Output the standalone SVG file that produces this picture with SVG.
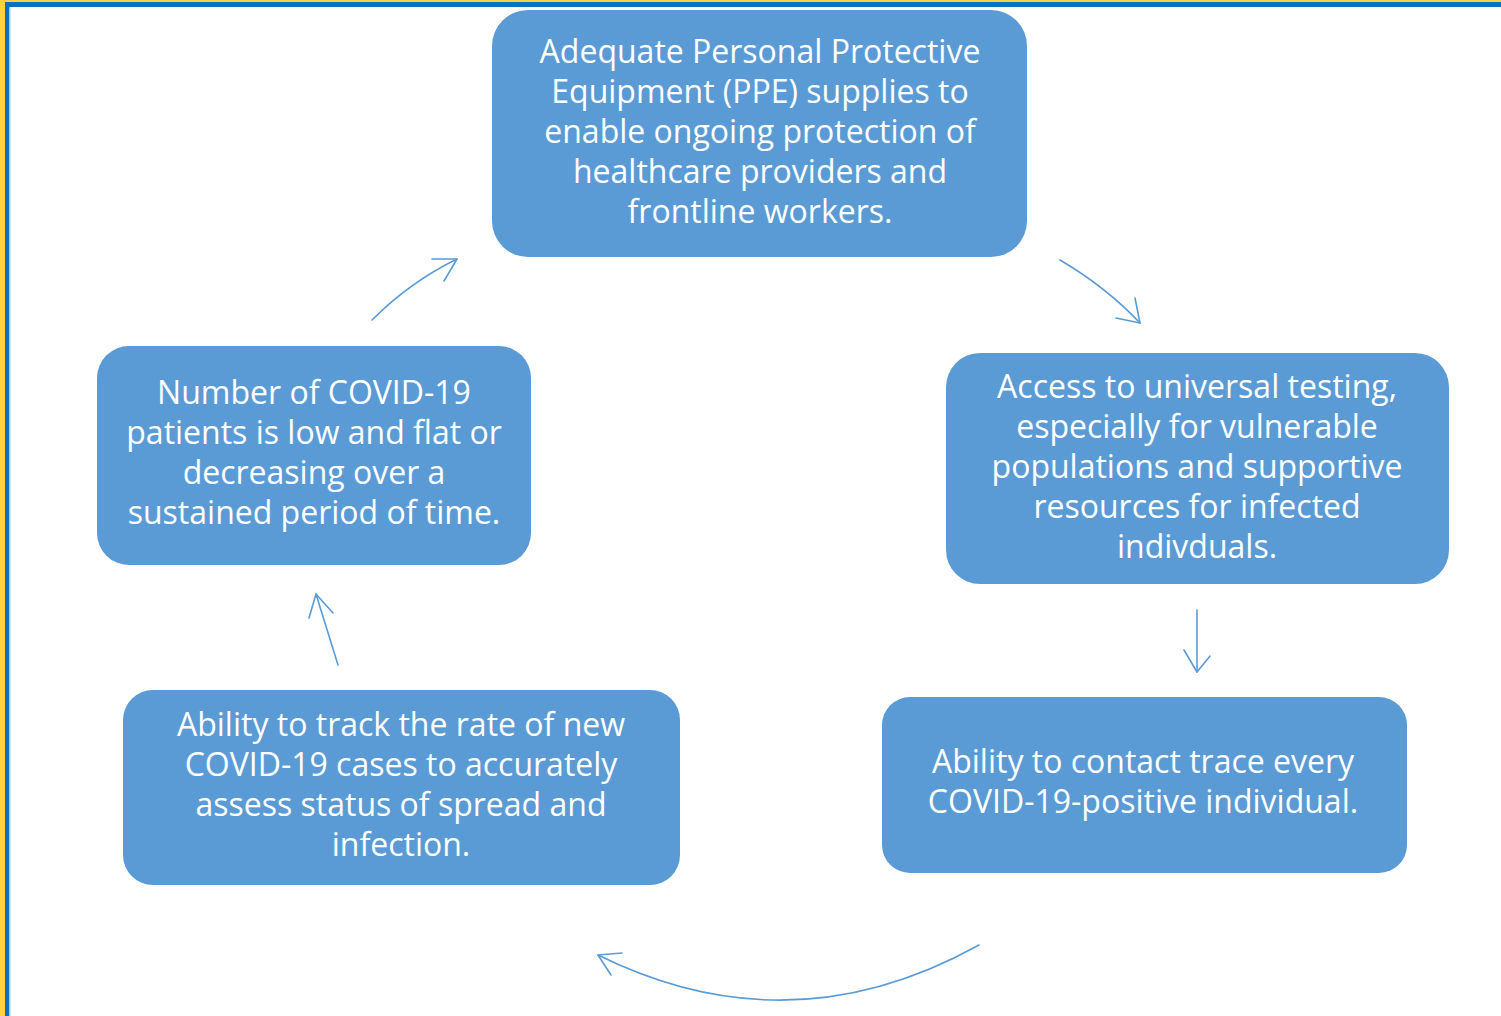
<svg xmlns="http://www.w3.org/2000/svg" width="1501" height="1016" viewBox="0 0 1501 1016">
<defs>
<style>
.box{fill:#5b9bd5;}
.t{fill:#ffffff;font-family:"Open Sans","Liberation Sans",Arial,sans-serif;font-size:32px;text-anchor:middle;}
.c{fill:none;stroke:#5b9bd5;stroke-width:1.6;stroke-linecap:round;stroke-linejoin:round;}
</style>
</defs>
<rect x="0" y="0" width="1501" height="1016" fill="#ffffff"/>
<rect x="0" y="0" width="1501" height="2" fill="#ffd23f"/>
<rect x="0" y="0" width="5" height="1016" fill="#ffd23f"/>
<rect x="5" y="2" width="1496" height="5" fill="#0a70c0"/>
<rect x="5" y="2" width="4" height="1014" fill="#0a70c0"/>
<rect x="9" y="7" width="1.5" height="1009" fill="#9fd0f2"/>

<g id="connectors">
<path class="c" d="M372,320 Q410,282 457,259"/>
<path class="c" d="M432,259 L457,259 L444,281"/>
<path class="c" d="M1060,260 Q1106,287 1140,323"/>
<path class="c" d="M1116,318 L1140,323 L1135,298"/>
<path class="c" d="M1197,610 L1197,672"/>
<path class="c" d="M1184,650 L1197,672 L1210,656"/>
<path class="c" d="M979,945 Q790,1050 598,955"/>
<path class="c" d="M622,953 L598,955 L611,975"/>
<path class="c" d="M338,665 L316,594"/>
<path class="c" d="M309,618 L316,594 L333,613"/>
</g>

<g id="node-ppe">
<rect class="box" x="492" y="10" width="535" height="247" rx="36"/>
<text class="t" x="760" y="63">Adequate Personal Protective</text>
<text class="t" x="760" y="103">Equipment (PPE) supplies to</text>
<text class="t" x="760" y="143">enable ongoing protection of</text>
<text class="t" x="760" y="183">healthcare providers and</text>
<text class="t" x="760" y="223">frontline workers.</text>
</g>

<g id="node-testing">
<rect class="box" x="946" y="353" width="503" height="231" rx="34"/>
<text class="t" x="1197" y="398">Access to universal testing,</text>
<text class="t" x="1197" y="438">especially for vulnerable</text>
<text class="t" x="1197" y="478">populations and supportive</text>
<text class="t" x="1197" y="518">resources for infected</text>
<text class="t" x="1197" y="558">indivduals.</text>
</g>

<g id="node-trace">
<rect class="box" x="882" y="697" width="525" height="176" rx="28"/>
<text class="t" x="1143" y="773">Ability to contact trace every</text>
<text class="t" x="1143" y="813">COVID-19-positive individual.</text>
</g>

<g id="node-track">
<rect class="box" x="123" y="690" width="557" height="195" rx="30"/>
<text class="t" x="401" y="736">Ability to track the rate of new</text>
<text class="t" x="401" y="776">COVID-19 cases to accurately</text>
<text class="t" x="401" y="816">assess status of spread and</text>
<text class="t" x="401" y="856">infection.</text>
</g>

<g id="node-patients">
<rect class="box" x="97" y="346" width="434" height="219" rx="32"/>
<text class="t" x="314" y="404">Number of COVID-19</text>
<text class="t" x="314" y="444">patients is low and flat or</text>
<text class="t" x="314" y="484">decreasing over a</text>
<text class="t" x="314" y="524">sustained period of time.</text>
</g>
</svg>
